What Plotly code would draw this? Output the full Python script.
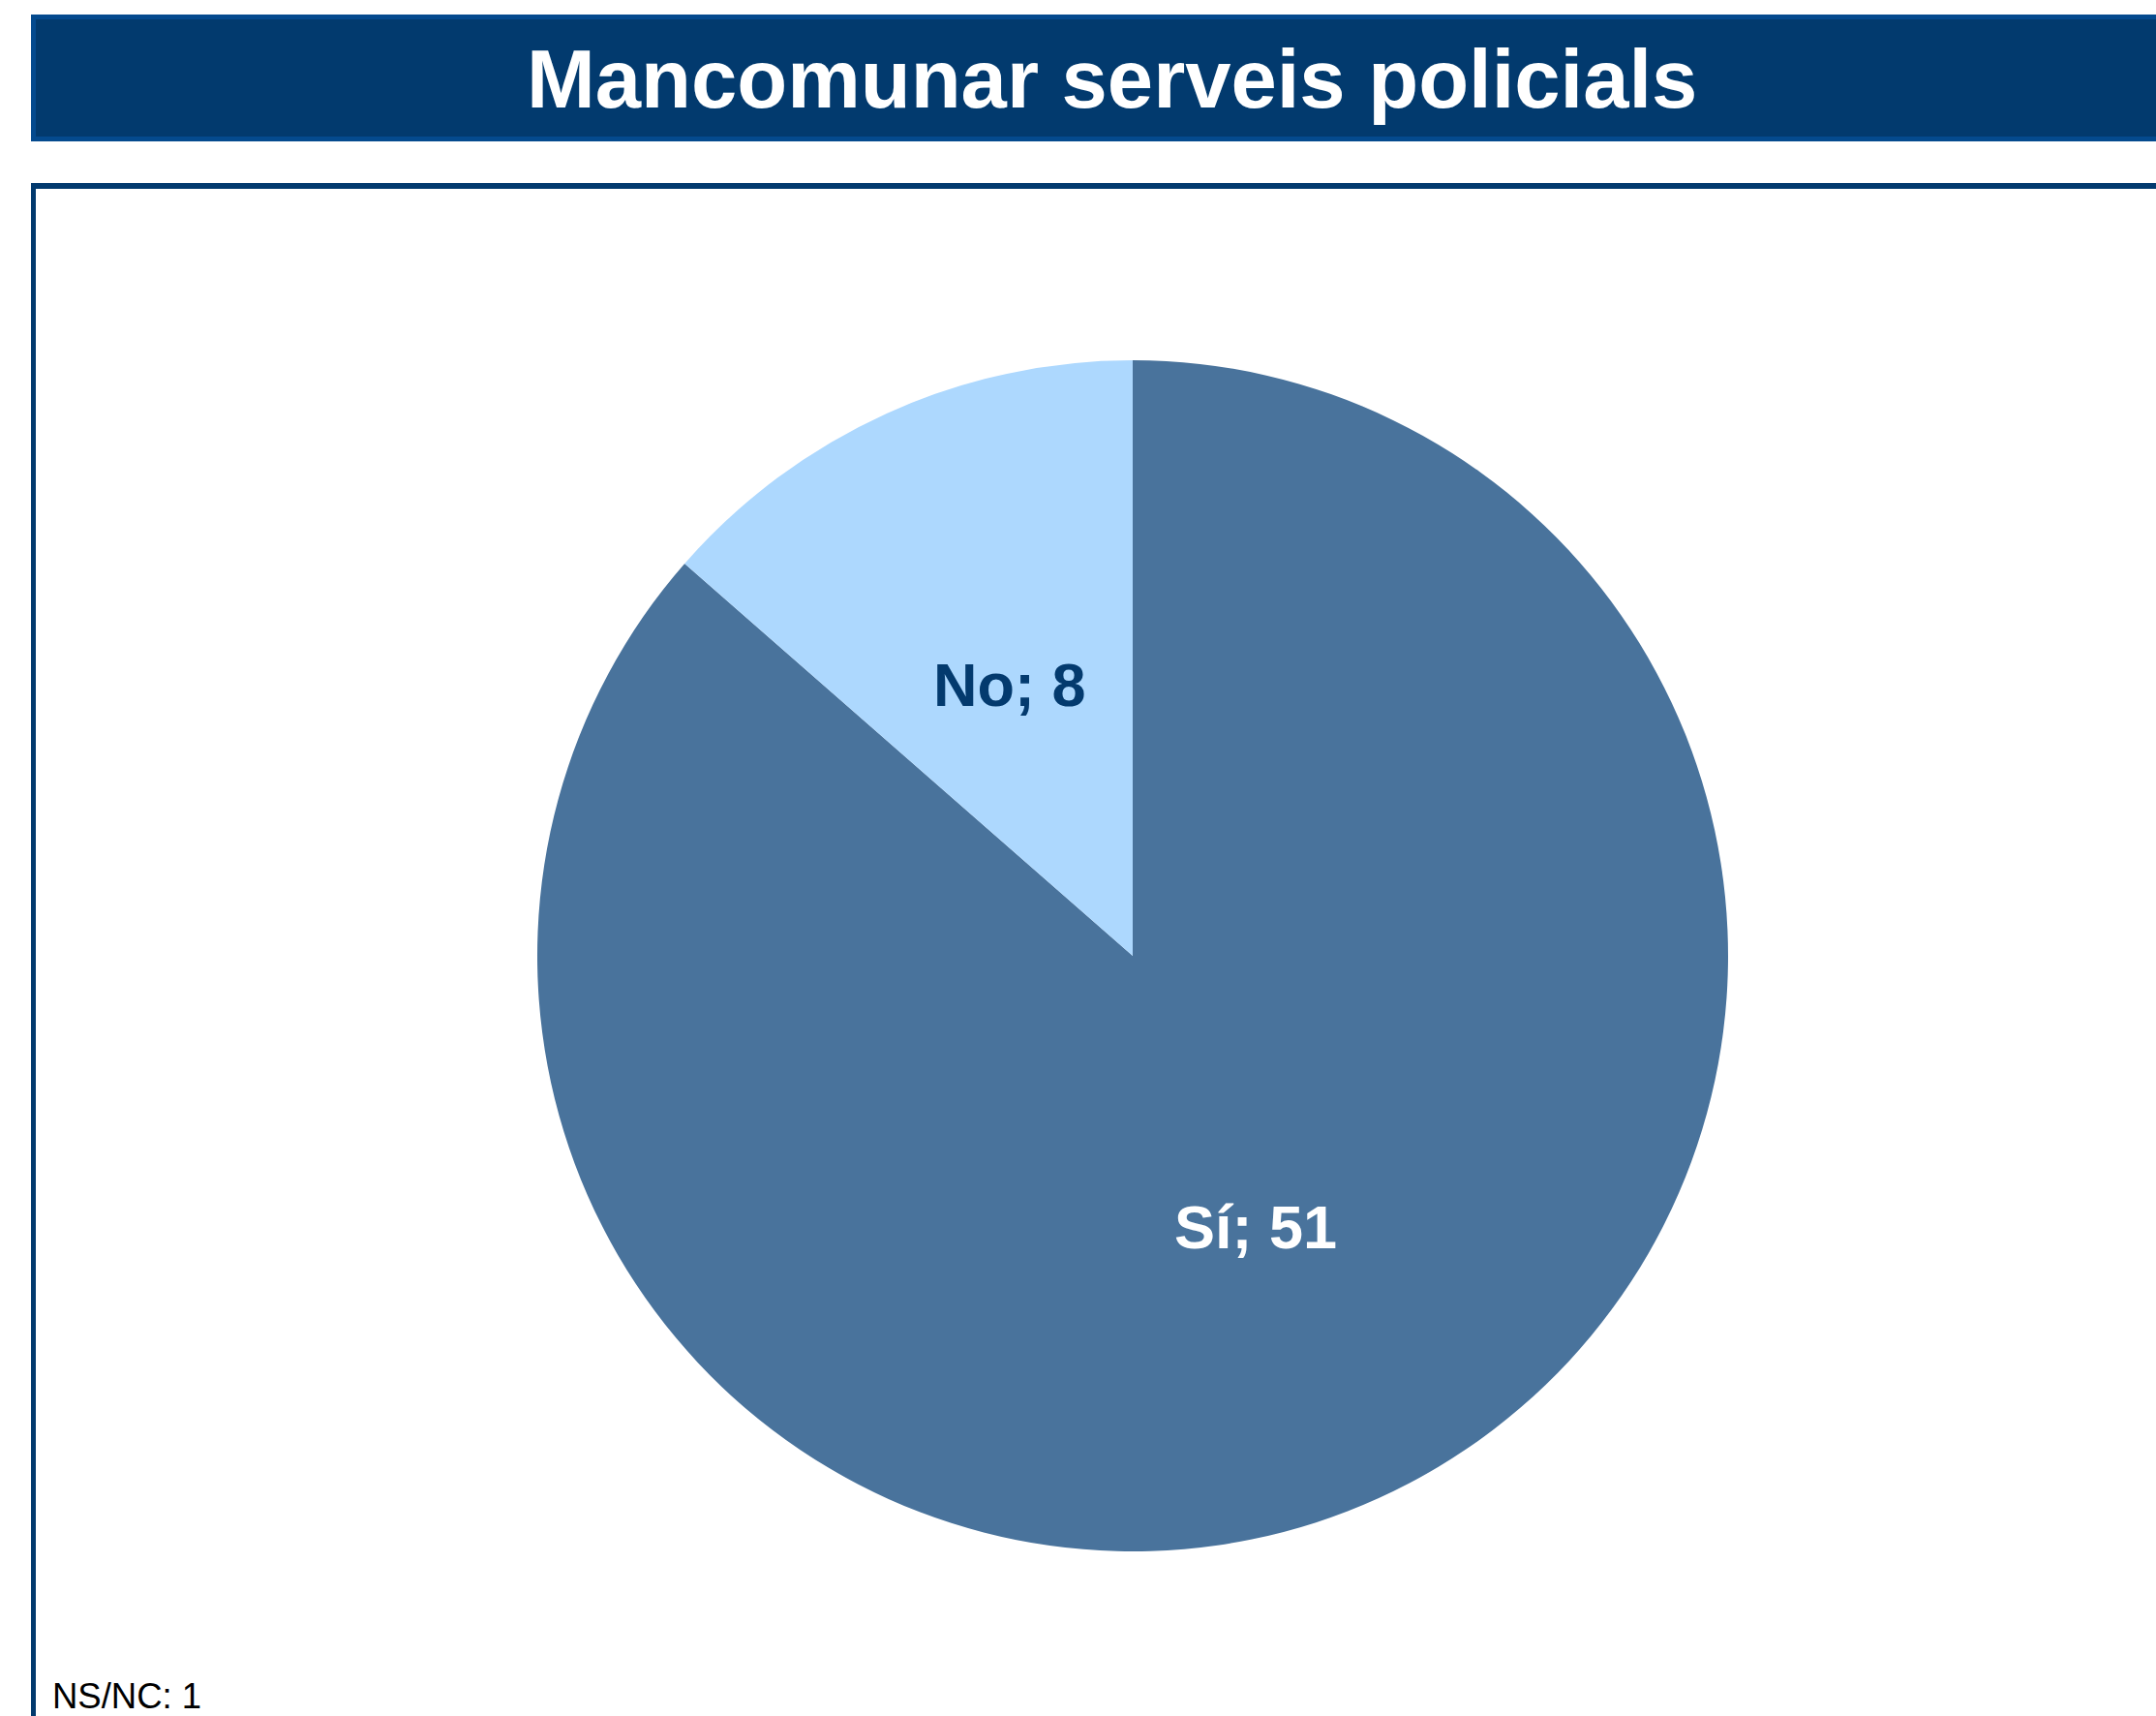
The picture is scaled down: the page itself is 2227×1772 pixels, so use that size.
import math
import plotly.graph_objects as go

# ---- data ----
title_text = "Mancomunar serveis policials"
categories = ["Sí", "No"]
values = [51, 8]
nsnc_label = "NS/NC"
nsnc_value = 1

slice_colors = ["#49739C", "#ADD8FE"]
label_colors = ["#FFFFFF", "#033A6E"]

W, H = 2227, 1772


def px(x):
    return x / W


def py(y):
    return 1 - y / H


# pie geometry (pixels)
cx, cy, r = 1170, 987, 615

fig = go.Figure()
fig.add_trace(go.Pie(
    labels=categories,
    values=values,
    sort=False,
    direction="clockwise",
    rotation=0,
    marker=dict(colors=slice_colors, line=dict(width=0)),
    textinfo="none",
    hoverinfo="label+value",
    showlegend=False,
    domain=dict(x=[px(cx - r), px(cx + r)], y=[py(cy + r), py(cy - r)]),
))

# data labels at half radius on each slice's mid-angle
total = sum(values)
cum = 0
annotations = []
for cat, val, col in zip(categories, values, label_colors):
    mid = (cum + val / 2) / total * 2 * math.pi
    cum += val
    lx = cx + 0.5 * r * math.sin(mid)
    ly = cy - 0.5 * r * math.cos(mid)
    annotations.append(dict(
        x=px(lx), y=py(ly), xref="paper", yref="paper",
        text=f"<b>{cat}; {val}</b>", showarrow=False,
        font=dict(family="Liberation Sans, Arial", size=63, color=col),
        xanchor="center", yanchor="middle",
    ))

annotations.append(dict(
    x=px(1148), y=py(82), xref="paper", yref="paper",
    text=f"<b>{title_text}</b>", showarrow=False,
    font=dict(family="Liberation Sans, Arial", size=85, color="#FFFFFF"),
    xanchor="center", yanchor="middle",
))
annotations.append(dict(
    x=px(52), y=py(1751), xref="paper", yref="paper",
    text=f"{nsnc_label}: {nsnc_value}", showarrow=False,
    font=dict(family="Liberation Sans, Arial", size=36.5, color="#000000"),
    xanchor="left", yanchor="middle",
))

shapes = [
    # title bar
    dict(type="rect", xref="paper", yref="paper",
         x0=px(34.5), x1=px(2260), y0=py(17.5), y1=py(143.5),
         fillcolor="#023A6E", line=dict(color="#044A8E", width=5), layer="below"),
    # frame top
    dict(type="line", xref="paper", yref="paper",
         x0=px(32), x1=px(2260), y0=py(192), y1=py(192),
         line=dict(color="#023A6E", width=6)),
    # frame left
    dict(type="line", xref="paper", yref="paper",
         x0=px(34.5), x1=px(34.5), y0=py(189), y1=py(1800),
         line=dict(color="#023A6E", width=5)),
]

fig.update_layout(
    width=W, height=H,
    margin=dict(l=0, r=0, t=0, b=0),
    paper_bgcolor="#FFFFFF",
    plot_bgcolor="#FFFFFF",
    annotations=annotations,
    shapes=shapes,
)

fig.write_html(
    "out.html",
    config={"displayModeBar": False},
    post_script="document.body.style.margin='0';document.body.style.overflow='hidden';",
)
